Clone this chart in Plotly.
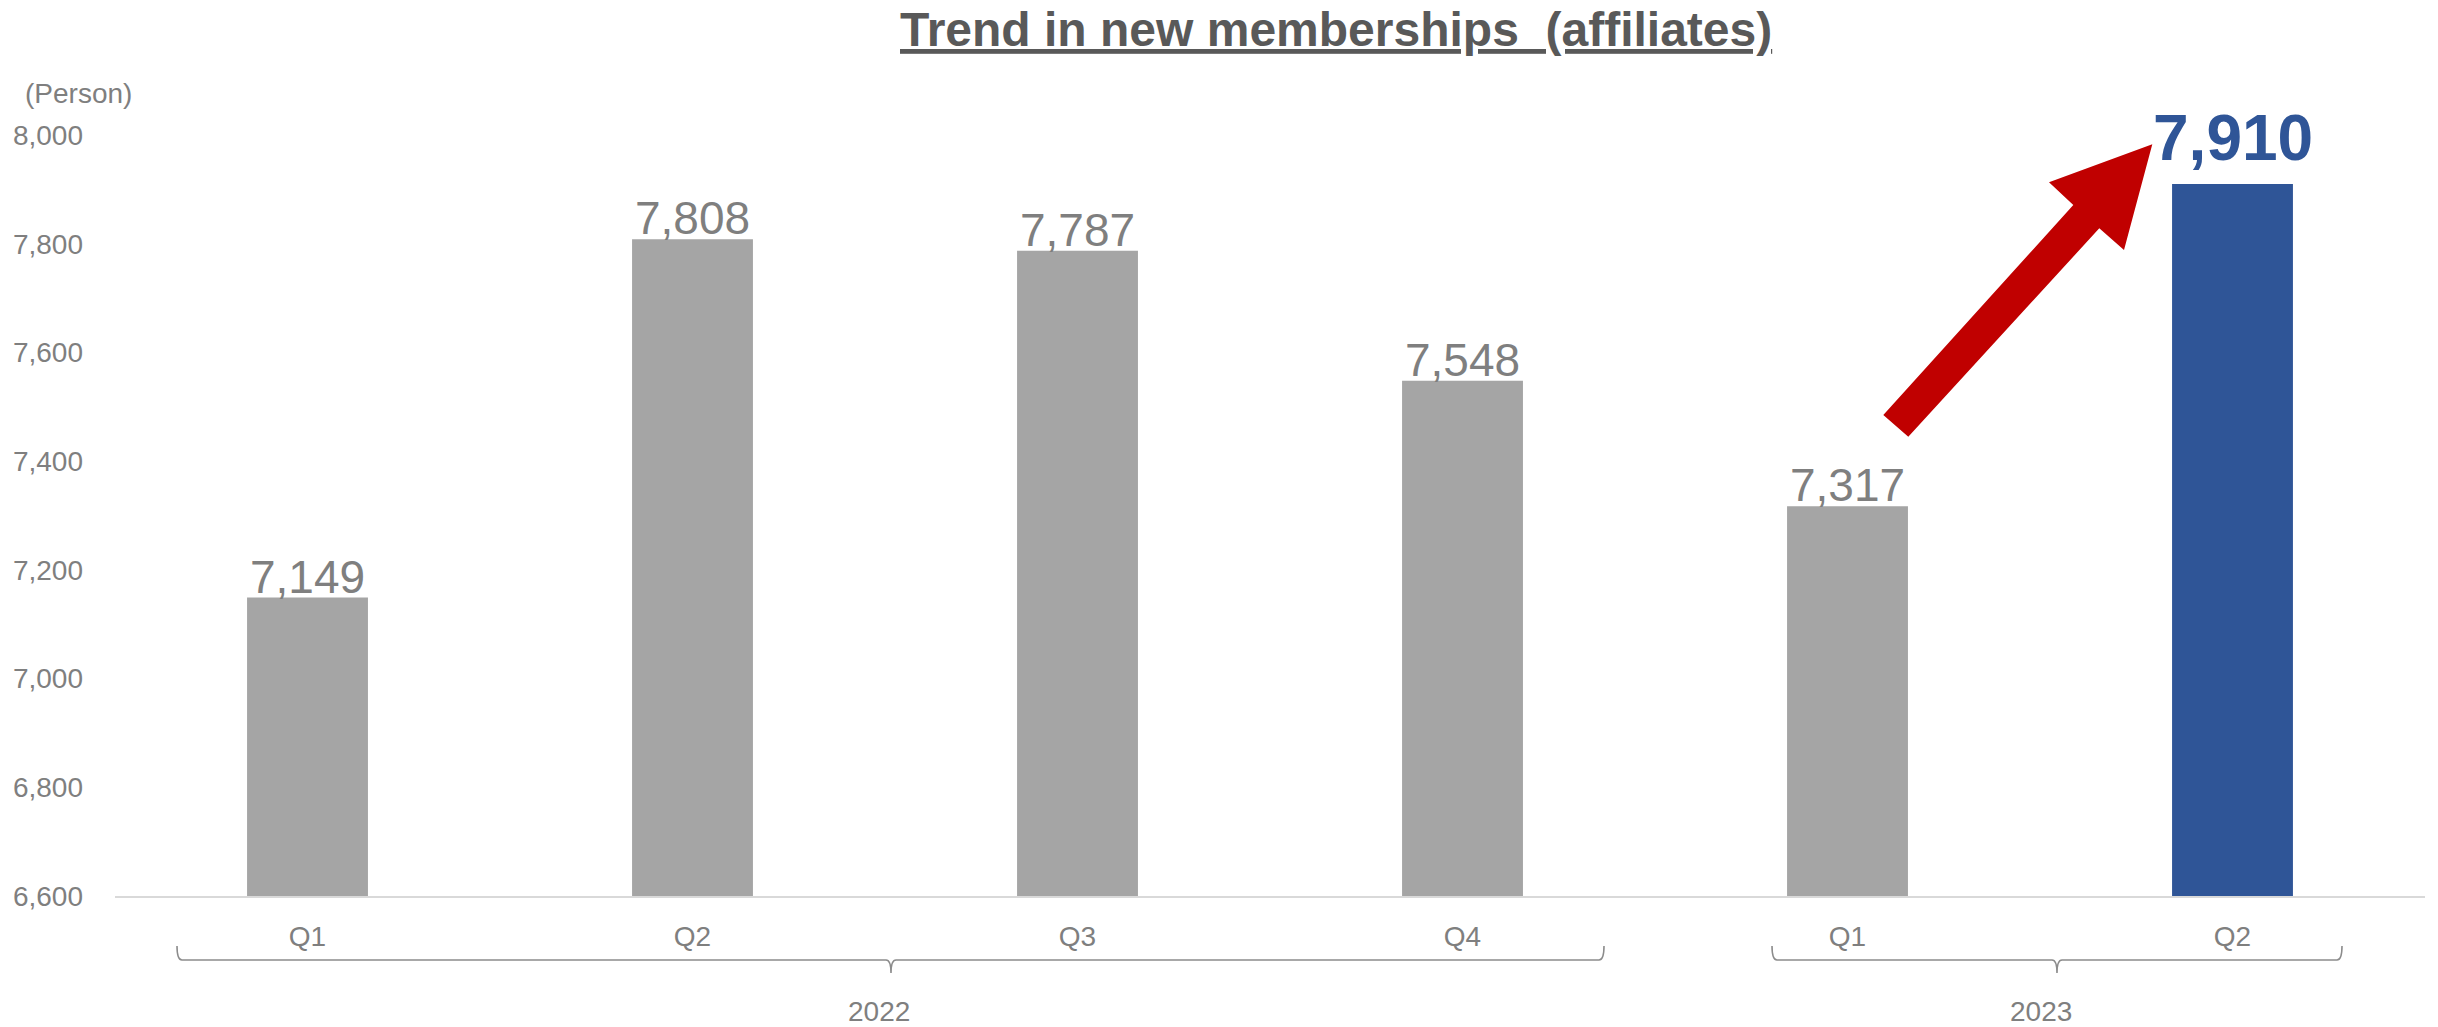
import plotly.graph_objects as go

# ---------------- data ----------------
categories = ["2022 Q1", "2022 Q2", "2022 Q3", "2022 Q4", "2023 Q1", "2023 Q2"]
quarter_labels = ["Q1", "Q2", "Q3", "Q4", "Q1", "Q2"]
years = ["2022", "2023"]
values = [7149, 7808, 7787, 7548, 7317, 7910]
y_ticks = [6600, 6800, 7000, 7200, 7400, 7600, 7800, 8000]
title_text = "Trend in new memberships\u00a0\u00a0(affiliates)"
unit_text = "(Person)"

# ---------------- layout helpers ----------------
W, H = 2438, 1027
ML, MR, MT, MB = 115, 13, 135, 131
PW, PH = W - ML - MR, H - MT - MB
FONT = "Liberation Sans, Arial, sans-serif"
GRAY_TXT = "#7F7F7F"
BAR_GRAY = "#A5A5A5"
BLUE = "#2F5597"
RED = "#C00000"


def px(x):
    return (x - ML) / PW


def py(y):
    return (H - MB - y) / PH


bar_colors = [BAR_GRAY] * (len(values) - 1) + [BLUE]

fig = go.Figure(
    go.Bar(
        x=categories,
        y=values,
        marker=dict(color=bar_colors, line=dict(width=0)),
        hoverinfo="skip",
    )
)

annotations = []
# data labels
for i, (c, v) in enumerate(zip(categories, values)):
    last = i == len(values) - 1
    annotations.append(
        dict(
            x=c, y=v, xref="x", yref="y",
            text=(f"<b>{v:,}</b>" if last else f"{v:,}"),
            showarrow=False,
            xanchor="center", yanchor="bottom",
            yshift=(8 if last else -7),
            font=dict(family=FONT, size=(64 if last else 46), color=(BLUE if last else GRAY_TXT)),
        )
    )

# title
annotations.append(
    dict(
        x=px(1336), y=py(58), xref="paper", yref="paper",
        text=f"<b><u>{title_text}</u></b>",
        showarrow=False, xanchor="center", yanchor="bottom",
        font=dict(family=FONT, size=48, color="#595959"),
    )
)
# unit
annotations.append(
    dict(
        x=px(23), y=py(93), xref="paper", yref="paper",
        text=unit_text, showarrow=False, xanchor="left", yanchor="middle",
        font=dict(family=FONT, size=28, color=GRAY_TXT),
    )
)
# year labels
for yr, cx in zip(years, [879, 2041]):
    annotations.append(
        dict(
            x=px(cx), y=py(1011), xref="paper", yref="paper",
            text=yr, showarrow=False, xanchor="center", yanchor="middle",
            font=dict(family=FONT, size=28, color=GRAY_TXT),
        )
    )


def path_from(points, close=False):
    s = "M " + " L ".join(f"{px(a):.5f},{py(b):.5f}" for a, b in points)
    return s + (" Z" if close else "")


def bracket(x0, x1, xm, ytop=946, yline=960, ybot=973, r=5):
    P = lambda a, b: f"{px(a):.5f},{py(b):.5f}"
    return (
        f"M {P(x0, ytop)} Q {P(x0, yline)} {P(x0 + r, yline)} "
        f"L {P(xm - r, yline)} Q {P(xm, yline)} {P(xm, ybot)} "
        f"Q {P(xm, yline)} {P(xm + r, yline)} "
        f"L {P(x1 - r, yline)} Q {P(x1, yline)} {P(x1, ytop)}"
    )


shapes = [
    dict(type="path", xref="paper", yref="paper", path=bracket(177, 1604, 891),
         line=dict(color="#8C8C8C", width=1.6)),
    dict(type="path", xref="paper", yref="paper", path=bracket(1772, 2342, 2057),
         line=dict(color="#8C8C8C", width=1.6)),
]

arrow_pts = [
    (1883.3, 415.0),
    (2073.3, 205.0),
    (2049.0, 182.3),
    (2152.3, 144.3),
    (2124.0, 250.0),
    (2099.3, 228.3),
    (1908.3, 436.7),
]
shapes.append(
    dict(type="path", xref="paper", yref="paper", path=path_from(arrow_pts, close=True),
         fillcolor=RED, line=dict(width=0), layer="above")
)

fig.update_layout(
    width=W, height=H,
    margin=dict(l=ML, r=MR, t=MT, b=MB, pad=0),
    paper_bgcolor="white", plot_bgcolor="white",
    showlegend=False,
    bargap=0.686,
    font=dict(family=FONT, color=GRAY_TXT),
    annotations=annotations,
    shapes=shapes,
    xaxis=dict(
        type="category",
        tickvals=categories, ticktext=quarter_labels,
        tickfont=dict(family=FONT, size=28, color=GRAY_TXT),
        showline=True, linecolor="#D9D9D9", linewidth=2,
        showgrid=False, zeroline=False, ticks="",
        ticklabelstandoff=14,
        range=[-0.5, len(categories) - 0.5],
        fixedrange=True,
    ),
    yaxis=dict(
        range=[6600, 8000],
        tickvals=y_ticks, ticktext=[f"{t:,}" for t in y_ticks],
        tickfont=dict(family=FONT, size=28, color=GRAY_TXT),
        showline=False, showgrid=False, zeroline=False, ticks="",
        ticklabelstandoff=31,
        fixedrange=True,
    ),
)

fig.update_traces(cliponaxis=False)
fig.write_html("out.html", config={"displayModeBar": False})
